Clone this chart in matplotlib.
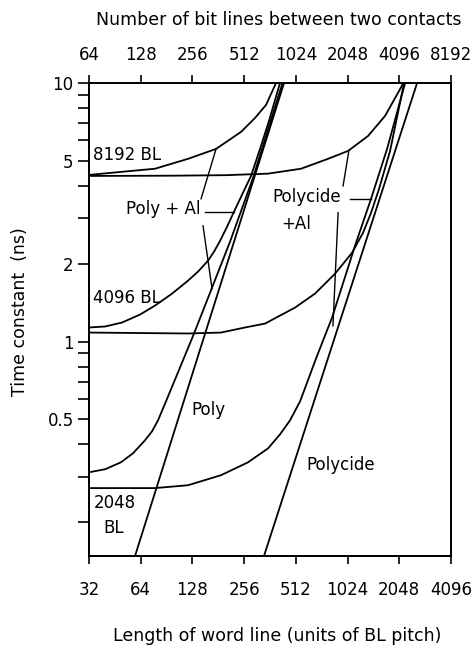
import numpy as np
import matplotlib
matplotlib.use("Agg")
import matplotlib.pyplot as plt

plt.rcParams['font.family'] = ['DejaVu Sans']
plt.rcParams['font.size'] = 12

# bottom axis: length of word line (BL pitch), top axis = 2x
x_ticks = [32, 64, 128, 256, 512, 1024, 2048, 4096]
x_top_ticks = [64, 128, 256, 512, 1024, 2048, 4096, 8192]
y_major = [0.5, 1, 2, 5, 10]
y_major_labels = ['0.5', '1', '2', '5', '10']
y_minor = [0.2, 0.3, 0.4, 0.6, 0.7, 0.8, 0.9, 3, 4, 6, 7, 8, 9]

# straight lines (word line material alone)
poly_L = [59.3, 437]
poly_tau = [0.148, 10.0]
polycide_L = [334, 2600]
polycide_tau = [0.148, 10.0]

# Poly + Al
polyal_8192_L = [32, 49.1, 77.5, 120.7, 175.7, 245.6, 296, 343, 392.6]
polyal_8192_tau = [4.41, 4.53, 4.66, 5.09, 5.56, 6.47, 7.32, 8.22, 10.0]
polyal_4096_L = [32, 39.7, 49.8, 63.4, 77.5, 97.4, 120.7, 138, 157.8, 171,
                 185.3, 203.6, 223.6, 249, 280.7, 316.8, 357, 414]
polyal_4096_tau = [1.133, 1.143, 1.184, 1.271, 1.377, 1.532, 1.72, 1.864, 2.055, 2.226,
                   2.45, 2.78, 3.18, 3.70, 4.37, 5.56, 7.13, 10.0]
polyal_2048_L = [32, 39.7, 49.1, 57.7, 67.8, 74.5, 80.7, 89.8, 108.4, 130.8,
                 166.5, 211.9, 288.4, 428]
polyal_2048_tau = [0.312, 0.3205, 0.341, 0.3694, 0.4148, 0.4494, 0.4955, 0.5865, 0.7937, 1.074,
                   1.616, 2.433, 4.298, 10.0]

# Polycide + Al
pcal_8192_L = [32, 100, 200, 352.7, 549, 788, 1031, 1348, 1693, 2099, 2155]
pcal_8192_tau = [4.37, 4.38, 4.40, 4.46, 4.66, 5.09, 5.46, 6.24, 7.46, 9.63, 10.0]
pcal_4096_L = [32, 120.7, 187.8, 259, 338.8, 506.5, 662, 866, 1088, 1260,
               1403, 1562, 1810, 2184]
pcal_4096_tau = [1.083, 1.074, 1.083, 1.133, 1.173, 1.353, 1.532, 1.83, 2.206, 2.635,
                 3.148, 3.897, 5.46, 10.0]
pcal_2048_L = [32, 77.5, 120.7, 187.8, 269.8, 352.7, 414.4, 473.6, 541.7, 671.3,
               832, 1132, 1403, 1739, 2214]
pcal_2048_tau = [0.271, 0.271, 0.278, 0.304, 0.341, 0.386, 0.4375, 0.4955, 0.5865, 0.86,
                 1.238, 2.35, 3.565, 5.56, 10.0]

fig = plt.figure(figsize=(4.73, 6.47), dpi=100)
ax = fig.add_axes([89/473, 1 - 556/647, (451 - 89)/473, (556 - 83)/647])
ax.set_xscale('log', base=2)
ax.set_yscale('log')
ax.set_xlim(32, 4096)
ax.set_ylim(0.148, 10)

lw = 1.3
for L, t in [(poly_L, poly_tau), (polycide_L, polycide_tau),
             (polyal_8192_L, polyal_8192_tau), (polyal_4096_L, polyal_4096_tau),
             (polyal_2048_L, polyal_2048_tau), (pcal_8192_L, pcal_8192_tau),
             (pcal_4096_L, pcal_4096_tau), (pcal_2048_L, pcal_2048_tau)]:
    ax.plot(L, t, color='black', linewidth=lw, solid_joinstyle='round')

for s in ax.spines.values():
    s.set_linewidth(1.3)

ax.set_xticks(x_ticks)
ax.set_xticklabels([str(v) for v in x_ticks])
ax.xaxis.set_minor_locator(matplotlib.ticker.NullLocator())
ax.tick_params(axis='x', direction='out', length=6, width=1.2, pad=12)
ax.set_yticks(y_major)
ax.set_yticklabels(y_major_labels)
ax.set_yticks(y_minor, minor=True)
ax.yaxis.set_minor_formatter(matplotlib.ticker.NullFormatter())
ax.tick_params(axis='y', which='both', direction='out', length=8, width=1.2, pad=3)

ax2 = ax.twiny()
ax2.set_xscale('log', base=2)
ax2.set_xlim(64, 8192)
ax2.set_xticks(x_top_ticks)
ax2.set_xticklabels([str(v) for v in x_top_ticks])
ax2.xaxis.set_minor_locator(matplotlib.ticker.NullLocator())
ax2.tick_params(axis='x', direction='out', length=6, width=1.2, pad=8)
for s in ax2.spines.values():
    s.set_linewidth(1.3)

# curve labels
ax.text(33.8, 5.27, '8192 BL', ha='left', va='center')
ax.text(33.8, 1.47, '4096 BL', ha='left', va='center')
ax.text(45.4, 0.237, '2048', ha='center', va='center')
ax.text(44.7, 0.19, 'BL', ha='center', va='center')
ax.text(158, 0.542, 'Poly', ha='center', va='center')
ax.text(938, 0.332, 'Polycide', ha='center', va='center')
ax.text(86.3, 3.26, 'Poly + Al', ha='center', va='center')
ax.text(595, 3.63, 'Polycide', ha='center', va='center')
ax.text(513, 2.855, '+Al', ha='center', va='center')

# pointer strokes
pk = dict(color='black', linewidth=1.0)
ax.plot([152, 224], [3.18, 3.18], **pk)
ax.plot([143.7, 175.7], [3.565, 5.56], **pk)
ax.plot([147.6, 166.5], [2.80, 1.60], **pk)
ax.plot([1059, 1403], [3.55, 3.55], **pk)
ax.plot([964, 1040], [4.0, 5.42], **pk)
ax.plot([902, 842], [3.15, 1.15], **pk)

fig.text(279/473, 1 - 20/647, 'Number of bit lines between two contacts',
         ha='center', va='center', fontsize=12.5)
fig.text(277/473, 1 - 636/647, 'Length of word line (units of BL pitch)',
         ha='center', va='center', fontsize=12.5)
fig.text(20/473, 1 - 312/647, 'Time constant  (ns)', rotation=90,
         ha='center', va='center', fontsize=12.5)

fig.savefig('out.png', dpi=100, facecolor='white')
